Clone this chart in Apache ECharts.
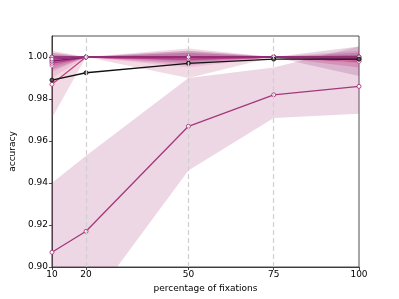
<!DOCTYPE html>
<html><head><meta charset="utf-8">
<script src="https://cdn.jsdelivr.net/npm/echarts@6/dist/echarts.min.js"></script>
<style>html,body{margin:0;padding:0;background:#fff}#c{width:399px;height:299px}</style>
</head><body><div id="c"></div>
<script>
const xs = [10, 20, 50, 75, 100];
const xTicks = [10, 20, 50, 75, 100];
const yTicks = [0.90, 0.92, 0.94, 0.96, 0.98, 1.00];
const gridX = [20, 50, 75];

// series near the top (values, lower, upper)
const sA = [0.987, 1.000, 0.999, 1.000, 0.999];
const sA_lo = [0.971, 1.000, 0.990, 1.000, 0.995];
const sA_hi = [1.003, 1.000, 1.004, 1.000, 1.003];
const sB = [0.998, 1.000, 1.000, 1.000, 1.000];
const sB_lo = [0.994, 1.000, 0.997, 1.000, 0.998];
const sB_hi = [1.002, 1.000, 1.003, 1.000, 1.002];
const sC = [0.996, 1.000, 0.999, 1.000, 0.998];
const sC_lo = [0.990, 1.000, 0.995, 1.000, 0.995];
const sC_hi = [1.002, 1.000, 1.003, 1.000, 1.001];
const sD = [0.999, 1.000, 1.000, 1.000, 1.000];
const sD_lo = [0.997, 1.000, 0.998, 1.000, 0.999];
const sD_hi = [1.001, 1.000, 1.002, 1.000, 1.001];
const sE = [0.997, 1.000, 0.999, 1.000, 0.999];
const sE_lo = [0.993, 1.000, 0.996, 1.000, 0.997];
const sE_hi = [1.001, 1.000, 1.002, 1.000, 1.001];
const sF = [1.000, 1.000, 1.000, 1.000, 0.998];
const sF_lo = [1.000, 1.000, 1.000, 1.000, 0.991];
const sF_hi = [1.000, 1.000, 1.000, 1.000, 1.005];
// lower main series
const sM = [0.907, 0.917, 0.967, 0.982, 0.986];
const sM_lo = [0.874, 0.880, 0.946, 0.971, 0.973];
const sM_hi = [0.940, 0.953, 0.990, 0.995, 1.005];
// black reference series
const sK = [0.989, 0.9925, 0.997, 0.999, 0.999];

const groups = [
  {v: sM, lo: sM_lo, hi: sM_hi, c: '#a3387a'},
  {v: sA, lo: sA_lo, hi: sA_hi, c: '#c0447f'},
  {v: sF, lo: sF_lo, hi: sF_hi, c: '#8a2a72'},
  {v: sC, lo: sC_lo, hi: sC_hi, c: '#d46a9e'},
  {v: sE, lo: sE_lo, hi: sE_hi, c: '#b23a86'},
  {v: sB, lo: sB_lo, hi: sB_hi, c: '#6e1f66'},
  {v: sD, lo: sD_lo, hi: sD_hi, c: '#9c2f7a'}
];

function hexA(h, a) {
  const r = parseInt(h.slice(1,3),16), g = parseInt(h.slice(3,5),16), b = parseInt(h.slice(5,7),16);
  return 'rgba(' + r + ',' + g + ',' + b + ',' + a + ')';
}

const series = [];
groups.forEach((g, gi) => {
  series.push({
    type: 'custom', clip: true, silent: true, z: 1,
    data: [0],
    renderItem: function (params, api) {
      const pts = [];
      for (let i = 0; i < xs.length; i++) pts.push(api.coord([xs[i], g.hi[i]]));
      for (let i = xs.length - 1; i >= 0; i--) pts.push(api.coord([xs[i], g.lo[i]]));
      return {type: 'polygon', shape: {points: pts}, style: {fill: hexA(g.c, 0.2), stroke: 'none'}};
    }
  });
});
groups.forEach((g, gi) => {
  series.push({
    type: 'line', z: 3, clip: true,
    data: xs.map((x, i) => [x, g.v[i]]),
    lineStyle: {color: g.c, width: 1.3},
    itemStyle: {color: '#fff', borderColor: g.c, borderWidth: 0.9},
    symbol: 'circle', symbolSize: 4, showSymbol: true
  });
});
series.push({
  type: 'line', z: 4, clip: true,
  data: xs.map((x, i) => [x, sK[i]]),
  lineStyle: {color: '#111', width: 1.3},
  itemStyle: {color: '#555', borderColor: '#111', borderWidth: 0.9},
  symbol: 'circle', symbolSize: 4,
  markLine: {
    silent: true, symbol: 'none', label: {show: false},
    lineStyle: {color: '#d0d0d0', type: [5, 3], width: 1.2},
    data: gridX.map(x => ({xAxis: x}))
  }
});

const font = 'DejaVu Sans';
const chart = echarts.init(document.getElementById('c'), null, {renderer: 'canvas'});
chart.setOption({
  animation: false,
  grid: {left: 50, right: 40, top: 36, bottom: 32, show: true, borderColor: '#222', borderWidth: 0.8, backgroundColor: 'transparent'},
  xAxis: {
    type: 'value', min: 10, max: 100,
    name: 'percentage of fixations', nameLocation: 'middle', nameGap: 16,
    nameTextStyle: {fontFamily: font, fontSize: 9, color: '#000'},
    axisLine: {show: true, onZero: false, lineStyle: {color: '#222', width: 0.8}},
    axisTick: {show: true, length: 3, lineStyle: {color: '#222', width: 0.8}, customValues: xTicks},
    axisLabel: {fontFamily: font, fontSize: 9, color: '#000', margin: 3, customValues: xTicks},
    splitLine: {show: false}
  },
  yAxis: {
    type: 'value', min: 0.90, max: 1.01,
    name: 'accuracy', nameLocation: 'middle', nameGap: 33,
    nameTextStyle: {fontFamily: font, fontSize: 9, color: '#000'},
    axisLine: {show: true, onZero: false, lineStyle: {color: '#222', width: 0.8}},
    axisTick: {show: true, length: 3, lineStyle: {color: '#222', width: 0.8}, customValues: yTicks},
    axisLabel: {fontFamily: font, fontSize: 9, color: '#000', margin: 4, customValues: yTicks,
      formatter: v => v.toFixed(2)},
    splitLine: {show: false}
  },
  series: series
});
</script></body></html>
